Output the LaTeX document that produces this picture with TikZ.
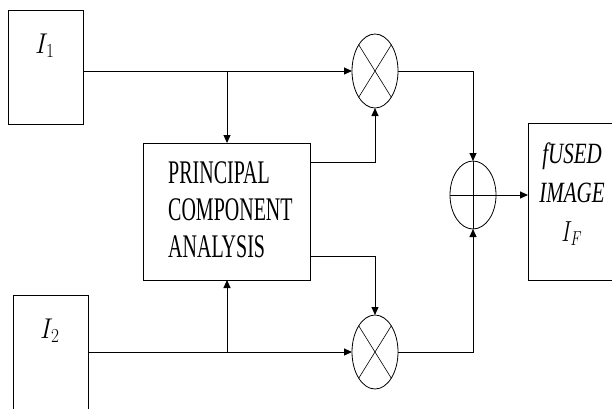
\documentclass[tikz,border=0pt]{standalone}
\usepackage{fontspec}
\setmainfont{Liberation Serif}
\usetikzlibrary{arrows.meta,shapes.geometric}
\begin{document}
\begin{tikzpicture}[x=1pt,y=-1pt,
  blk/.style={draw,line width=1pt,inner sep=0,outer sep=0},
  mulnode/.style={draw,ellipse,line width=0.8pt,inner sep=0,outer sep=0,minimum width=46pt,minimum height=74pt},
  cross/.style={line width=0.6pt},
  conn/.style={line width=1pt},
  arr/.style={conn,-{Triangle[length=8pt,width=7pt]}},
  lbl/.style={inner sep=0}]
\useasboundingbox (0,0) rectangle (612,408);
\clip (0,0) rectangle (612,408);
% blocks
\node[blk,minimum width=75pt,minimum height=114pt] (I1) at (45.5,67) {};
\node[blk,minimum width=75pt,minimum height=135pt] (I2) at (50.5,362.5) {};
\node[blk,minimum width=167pt,minimum height=137pt] (pca) at (226.5,211.5) {};
\node[blk,minimum width=102pt,minimum height=157pt] (fused) at (579,201.5) {};
% operators
\node[mulnode] (mul1) at (375,71) {};
\node[mulnode] (mul2) at (375,352) {};
\node[mulnode,minimum height=68pt] (add) at (473,195) {};
\draw[cross] (mul1.north east) -- (mul1.south west) (mul1.north west) -- (mul1.south east);
\draw[cross] (mul2.north east) -- (mul2.south west) (mul2.north west) -- (mul2.south east);
\draw[cross,line width=0.8pt] (add.north) -- (add.south) (add.west) -- (add.east);
% labels
\node[lbl] (l1) at (45,46) {\scalebox{1}[1.15]{\fontsize{25}{28}\selectfont$I_1$}};
\node[lbl] (l2) at (50,331) {\scalebox{1}[1.15]{\fontsize{25}{28}\selectfont$I_2$}};
\node[lbl,anchor=base west] (pcatext) at (168,183) {\scalebox{1}[1.65]{\fontsize{20}{22.7}\selectfont\begin{tabular}[t]{@{}l@{}}PRINCIPAL\\COMPONENT\\ANALYSIS\end{tabular}}};
\node[lbl,anchor=base] (ftext) at (572,163) {\scalebox{1}[1.4]{\fontsize{21}{27.9}\selectfont\itshape\begin{tabular}[t]{@{}c@{}}fUSED\\IMAGE\\$I_F$\end{tabular}}};
% connectors
\coordinate (b1) at (227,71);
\coordinate (b2) at (227,352);
\coordinate (p1) at (310,162);
\coordinate (p2) at (310,256);
\draw[arr] (I1.east |- mul1) -- (mul1.west);
\draw[arr] (b1) -- (b1 |- pca.north);
\draw[arr] (I2.east |- mul2) -- (mul2.west);
\draw[arr] (b2) -- (b2 |- pca.south);
\draw[arr] (p1) -| (mul1.south);
\draw[arr] (p2) -| (mul2.north);
\draw[arr] (mul1.east) -| (add.north);
\draw[arr] (mul2.east) -| (add.south);
\draw[arr] (add.east) -- (add.east -| fused.west);
\end{tikzpicture}
\end{document}
